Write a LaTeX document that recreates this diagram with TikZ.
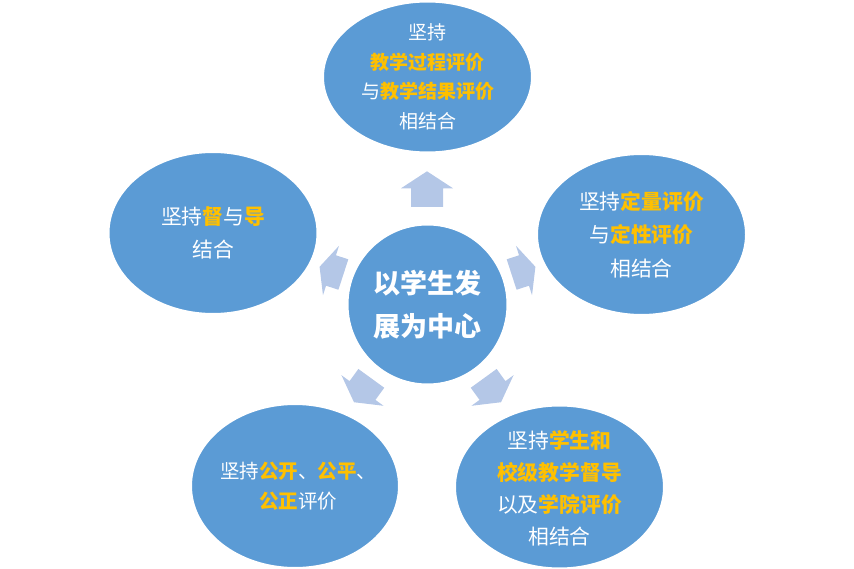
\documentclass[tikz,border=0pt]{standalone}
\usepackage{fontspec}
\setmainfont{Noto Sans CJK SC}
\usetikzlibrary{shapes.geometric}
\definecolor{ellblue}{HTML}{5B9BD5}
\definecolor{arrblue}{HTML}{B4C7E7}
\definecolor{hlyel}{HTML}{FFC000}
\newcommand\yel[1]{{\bfseries\color{hlyel}#1}}
\newcommand\blkarrow[5]{\fill[arrblue,shift={(#1,#2)},rotate=#3] (#4,0) -- (0,26) -- (0,16) -- (-#5,16) -- (-#5,-16) -- (0,-16) -- (0,-26) -- cycle;}
\tikzset{
  ell/.style={ellipse, fill=ellblue, draw=white, line width=2pt, inner sep=0pt},
  txt/.style={text=white, align=center, inner sep=0pt},
}
\begin{document}
\begin{tikzpicture}[x=1pt,y=-1pt]
\useasboundingbox (0,0) rectangle (854,569);
% block arrows
\blkarrow{427}{188.3}{90}{17}{18.5}
\blkarrow{331}{270.5}{162}{12}{13}
\blkarrow{524}{270.5}{18}{12}{13}
\blkarrow{362.5}{390.5}{234}{14.5}{15}
\blkarrow{492.5}{390.5}{306}{14.5}{15}
% ellipses
\node[ell, minimum width=209, minimum height=151] (top) at (427.5,77) {};
\node[ell, minimum width=209, minimum height=161] (right) at (641.5,234.5) {};
\node[ell, minimum width=209, minimum height=162] (left) at (213,233) {};
\node[ell, minimum width=208, minimum height=164] (bl) at (295,486) {};
\node[ell, minimum width=209, minimum height=163] (br) at (559.5,487) {};
\node[ell, circle, minimum size=160] (center) at (427.5,304.5) {};
% texts
\node[txt, font=\fontsize{19}{29.5}\selectfont] (top-t) at (top.center)
  {坚持\\ \yel{教学过程评价}\\ 与\yel{教学结果评价}\\ 相结合};
\node[txt, font=\fontsize{20.8}{33.5}\selectfont] (right-t) at (right.center)
  {坚持\yel{定量评价}\\ 与\yel{定性评价}\\ 相结合};
\node[txt, font=\fontsize{20.8}{33}\selectfont] (left-t) at (left.center)
  {坚持\yel{督}与\yel{导}\\ 结合};
\node[txt, font=\fontsize{19.5}{30}\selectfont] (bl-t) at ([xshift=3]bl.center)
  {坚持\yel{公开}、\yel{公平}、\\ \yel{公正}评价};
\node[txt, font=\fontsize{20.8}{32}\selectfont] (br-t) at ([yshift=-1.5]br.center)
  {坚持\yel{学生和}\\ \yel{校级教学督导}\\ 以及\yel{学院评价}\\ 相结合};
\node[txt, font=\fontsize{27}{43}\selectfont\bfseries] (center-t) at (center.center)
  {以学生发\\展为中心};
\end{tikzpicture}
\end{document}
